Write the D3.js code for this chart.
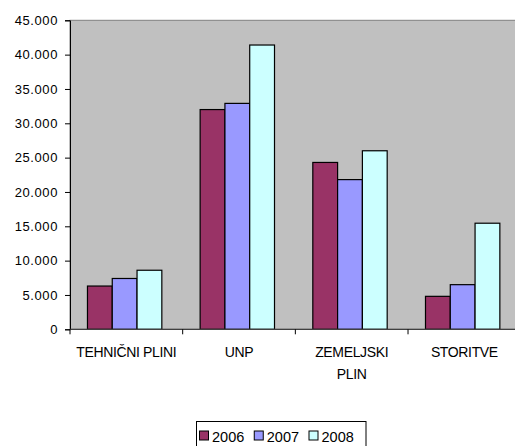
<!DOCTYPE html>
<html>
<head>
<meta charset="utf-8">
<script src="https://cdn.jsdelivr.net/npm/d3@7"></script>
<style>
  html, body { margin: 0; padding: 0; background: #fff; }
  svg { display: block; font-family: Arial, "Liberation Sans", sans-serif; }
</style>
</head>
<body>
<svg id="chart" width="515" height="446"></svg>
<script>
const categories = ["TEHNIČNI PLINI", "UNP", "ZEMELJSKI PLIN", "STORITVE"];
const categoryLines = [["TEHNIČNI PLINI"], ["UNP"], ["ZEMELJSKI", "PLIN"], ["STORITVE"]];
const series = ["2006", "2007", "2008"];
const values2006 = [6300, 32000, 24300, 4800];
const values2007 = [7400, 32900, 21800, 6500];
const values2008 = [8600, 41400, 26000, 15450];
const yTicks = [0, 5000, 10000, 15000, 20000, 25000, 30000, 35000, 40000, 45000];
const yTickLabels = ["0", "5.000", "10.000", "15.000", "20.000", "25.000", "30.000", "35.000", "40.000", "45.000"];
const colors = ["#993366", "#9999ff", "#ccffff"];

const allValues = [values2006, values2007, values2008];

const svg = d3.select("#chart");
const plotLeft = 70, plotRight = 520.7, plotTop = 20.3, plotBottom = 329.3;

const x0 = d3.scaleBand().domain(categories).range([plotLeft, plotRight]).padding(0);
const step = x0.bandwidth();
const x1 = d3.scaleBand().domain(series).range([step * 0.155, step * 0.815]).padding(0);
const y = d3.scaleLinear().domain([0, 45000]).range([plotBottom, plotTop]);

// plot area
svg.append("rect")
  .attr("x", plotLeft).attr("y", plotTop)
  .attr("width", plotRight - plotLeft).attr("height", plotBottom - plotTop)
  .attr("fill", "#c0c0c0")
  .attr("stroke", "#808080").attr("stroke-width", 1);

// bars
const groups = svg.append("g").selectAll("g")
  .data(categories)
  .join("g")
  .attr("transform", d => `translate(${x0(d)},0)`);

groups.selectAll("rect")
  .data((d, i) => series.map((s, j) => ({ s, j, v: allValues[j][i] })))
  .join("rect")
  .attr("x", d => x1(d.s))
  .attr("y", d => y(d.v))
  .attr("width", x1.bandwidth())
  .attr("height", d => plotBottom - y(d.v))
  .attr("fill", d => colors[d.j])
  .attr("stroke", "#000")
  .attr("stroke-width", 1.2);

// y axis
const yAxis = d3.axisLeft(y)
  .tickValues(yTicks)
  .tickFormat((d, i) => yTickLabels[i])
  .tickSize(5)
  .tickPadding(7);
const gy = svg.append("g").attr("transform", `translate(${plotLeft},0)`).call(yAxis);
gy.select(".domain").attr("stroke", "#000");
gy.selectAll(".tick line").attr("stroke", "#000");
gy.selectAll("text").attr("font-size", 13).attr("fill", "#000")
  .attr("font-family", "Arial, 'Liberation Sans', sans-serif")
  .style("letter-spacing", "0.6px");

// x axis (ticks at category boundaries)
const boundaries = categories.map(c => x0(c)).concat([plotRight]);
const gx = svg.append("g");
gx.append("line")
  .attr("x1", plotLeft).attr("x2", plotRight)
  .attr("y1", plotBottom).attr("y2", plotBottom)
  .attr("stroke", "#404040").attr("stroke-width", 1.2);
gx.selectAll("line.tk")
  .data(boundaries)
  .join("line")
  .attr("class", "tk")
  .attr("x1", d => d).attr("x2", d => d)
  .attr("y1", plotBottom).attr("y2", plotBottom + 5)
  .attr("stroke", "#000");

gx.selectAll("text")
  .data(categories)
  .join("text")
  .attr("x", d => x0(d) + step / 2)
  .attr("y", 357)
  .attr("text-anchor", "middle")
  .attr("font-size", 14)
  .style("letter-spacing", "-0.35px")
  .attr("fill", "#000")
  .each(function(d, i) {
    const t = d3.select(this);
    categoryLines[i].forEach((ln, k) => {
      t.append("tspan")
        .attr("x", x0(d) + step / 2)
        .attr("dy", k === 0 ? 0 : 22)
        .text(ln);
    });
  });

// legend
const lg = svg.append("g");
lg.append("rect")
  .attr("x", 196.5).attr("y", 421.5)
  .attr("width", 169.5).attr("height", 30)
  .attr("fill", "#fff").attr("stroke", "#000").attr("stroke-width", 1);
const legendX = d3.scalePoint().domain(series).range([199, 308.5]);
const items = lg.selectAll("g.it").data(series).join("g").attr("class", "it")
  .attr("transform", d => `translate(${legendX(d)},0)`);
items.append("rect")
  .attr("x", 0.5).attr("y", 431)
  .attr("width", 9).attr("height", 9)
  .attr("fill", (d, i) => colors[i])
  .attr("stroke", "#000").attr("stroke-width", 1);
items.append("text")
  .attr("x", 13).attr("y", 441.5)
  .attr("font-size", 14.5)
  .attr("fill", "#000")
  .text(d => d);
</script>
</body>
</html>
